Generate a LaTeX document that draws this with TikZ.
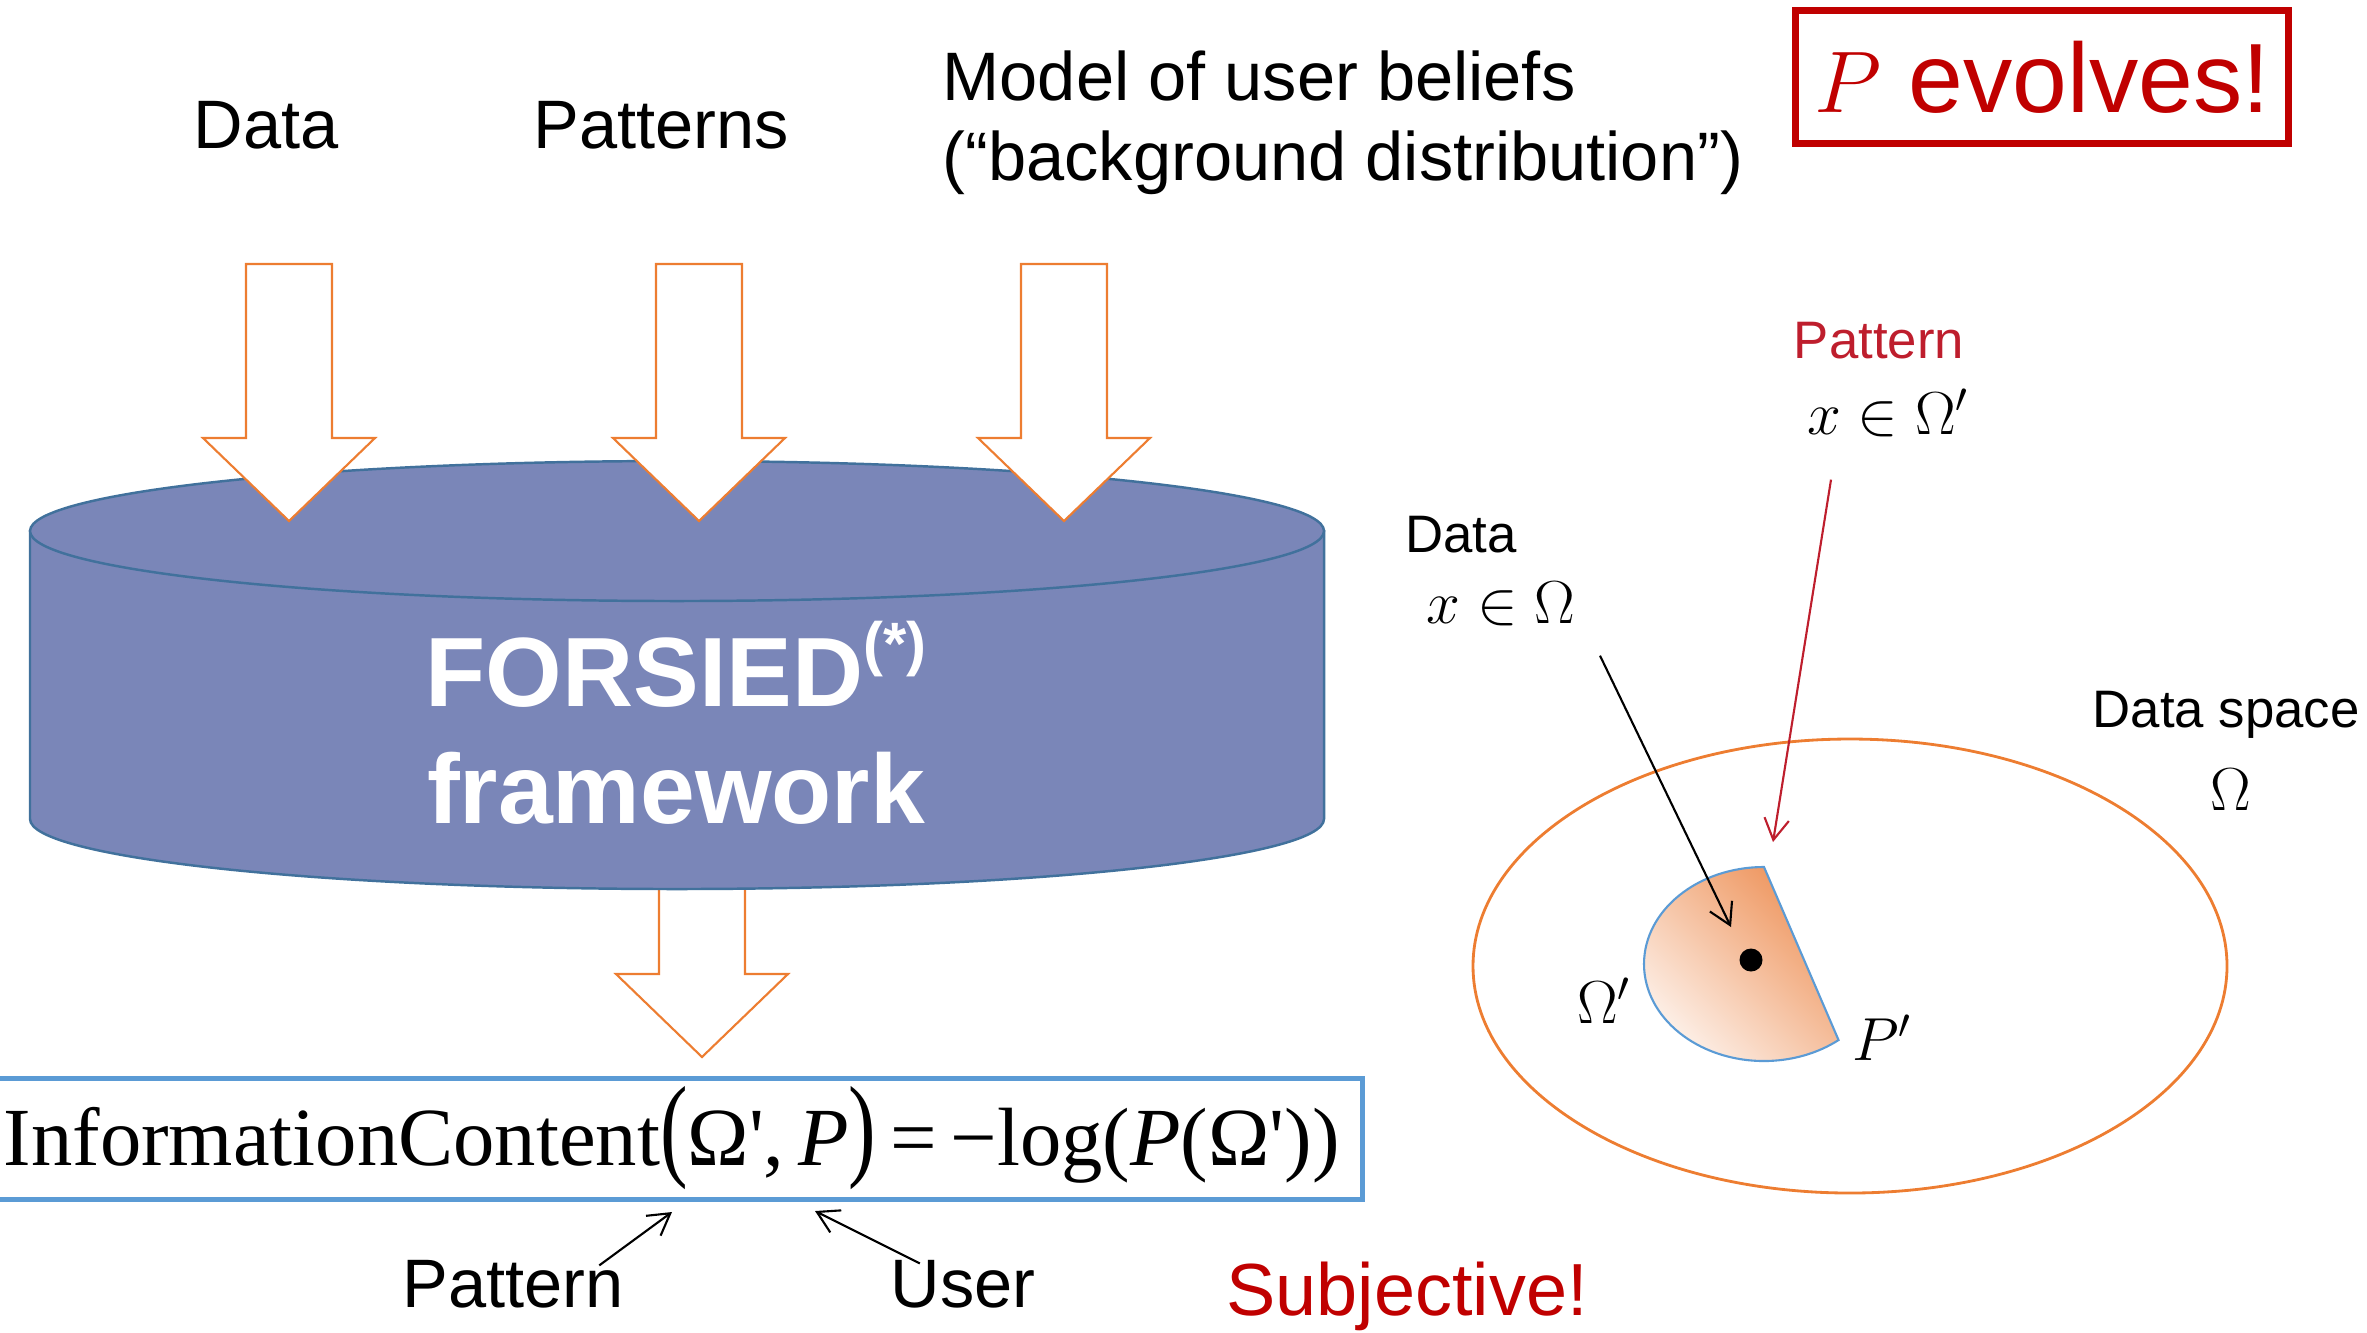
\documentclass[tikz,border=0pt]{standalone}
\usepackage{fontspec}
\usepackage{graphicx}
\setmainfont{Liberation Sans}
\newfontfamily\tnr{Liberation Serif}
\usetikzlibrary{arrows.meta}

\definecolor{arrorange}{RGB}{237,125,49}
\definecolor{cylfill}{RGB}{122,134,184}
\definecolor{cylline}{RGB}{65,113,156}
\definecolor{boxblue}{RGB}{91,155,213}
\definecolor{alarmred}{RGB}{192,0,0}
\definecolor{patred}{RGB}{190,30,45}
\definecolor{pacdark}{RGB}{238,148,92}
\definecolor{paclight}{RGB}{253,240,232}

\tikzstyle{toplabel} = [inner sep=0pt, font=\fontsize{19.5}{22.8}\selectfont]
\tikzstyle{bigwhite} = [inner sep=0pt, text=white, font=\fontsize{28}{32}\selectfont\bfseries]
\tikzstyle{small} = [inner sep=0pt, font=\fontsize{15}{18}\selectfont]
\tikzstyle{mathlbl} = [inner sep=0pt, font=\fontsize{17.5}{20}\selectfont]
\tikzstyle{fat} = [draw=arrorange, fill=white, line width=0.6pt]
\tikzstyle{cyl} = [draw=cylline, fill=cylfill, line width=0.7pt]
\tikzstyle{thinarrow} = [-{Straight Barb[length=6pt,width=7pt]}, line width=0.6pt]

% #1 centre x, #2 top, #3 head base, #4 tip
\newcommand{\fatarrow}[4]{\draw[fat] (#1-43,#2) -- (#1+43,#2) -- (#1+43,#3) -- (#1+86,#3) -- (#1,#4) -- (#1-86,#3) -- (#1-43,#3) -- cycle;}
\newcommand{\bigparen}[1]{\scalebox{1}[1.38]{#1}}

\begin{document}
\begin{tikzpicture}[x=0.01cm, y=-0.01cm]
            \useasboundingbox (0,0) rectangle (2367,1332);
            \fatarrow{702}{870}{974}{1057}
            \draw[cyl] (30,531) -- (30,819) arc[start angle=180, end angle=0, x radius=647, y radius=70] -- (1324,531) -- cycle;
            \draw[cyl] (677,531) ellipse [x radius=647, y radius=70];
            \fatarrow{289}{264}{438}{521}
            \fatarrow{699}{264}{438}{521}
            \fatarrow{1064}{264}{438}{521}
            \node (data) [toplabel] at (266,125) {Data};
            \node (patterns) [toplabel] at (661,125) {Patterns};
            \node (model) [toplabel, anchor=west, align=left] at (942,123) {Model of user beliefs\\(“background distribution”)};
            \node (evolves) [draw=alarmred, line width=2pt, minimum width=4.93cm, minimum height=1.32cm, text=alarmred, font=\fontsize{28}{32}\selectfont] at (2042,77) {$P$ evolves!};
            \node (forsied) [bigwhite, anchor=base] at (676,706) {FORSIED\raisebox{0.42em}{\fontsize{17}{17}\selectfont(*)}};
            \node (frame) [bigwhite, anchor=base] at (676,823) {framework};
            \node (icbox) [draw=boxblue, line width=1.4pt, minimum width=13.72cm, minimum height=1.21cm, inner sep=0pt] at (676,1139) {};
            \node (ic) [anchor=base west, inner sep=0pt, font=\tnr\fontsize{23.5}{26}\selectfont] at (3,1165) {InformationContent\bigparen{(}Ω\textquotesingle,\,\textit{P}\bigparen{)}\,=\,−log(\textit{P}(Ω\textquotesingle))};
            \coordinate (omegahead) at (672,1212);
            \coordinate (phead) at (815,1211);
            \node (patlbl) [toplabel] at (513,1284) {Pattern};
            \node (userlbl) [toplabel] at (963,1284) {User};
            \node (subj) [inner sep=0pt, text=alarmred, font=\fontsize{21}{24}\selectfont, anchor=base] at (1407,1315) {Subjective!};
            \draw[thinarrow] ([shift={(-25,6)}]patlbl.north east) -- (omegahead);
            \draw[thinarrow] ([shift={(30,4)}]userlbl.north west) -- (phead);
            \draw[arrorange, line width=0.8pt] (1850,966) ellipse [x radius=377, y radius=227];
            \draw[draw=boxblue, line width=0.6pt, top color=pacdark, bottom color=paclight, shading angle=-45] (1764,867) arc[start angle=-90, end angle=-308.4, x radius=120, y radius=97] -- cycle;
            \node (pt) [circle, fill=black, inner sep=0pt, minimum size=0.23cm] at (1751,960) {};
            \node (rpat) [small, text=patred] at (1879,341) {Pattern};
            \node (rpatx) [mathlbl] at (1888,413) {$x \in \Omega'$};
            \node (rdata) [small] at (1461,535) {Data};
            \node (rdatax) [mathlbl] at (1501,604) {$x \in \Omega$};
            \node (space) [small] at (2226,715) {Data space};
            \node (spaceom) [mathlbl] at (2231,790) {$\Omega$};
            \node (omp) [mathlbl] at (1604,1001) {$\Omega'$};
            \node (pp) [mathlbl] at (1882,1038) {$P'$};
            \coordinate (redhead) at (1773,842);
            \coordinate (datahead) at (1731,927);
            \draw[thinarrow, patred] ([shift={(-57,42)}]rpatx.south) -- (redhead);
            \draw[thinarrow] ([shift={(99,29)}]rdatax.south) -- (datahead);
        \end{tikzpicture}
\end{document}
